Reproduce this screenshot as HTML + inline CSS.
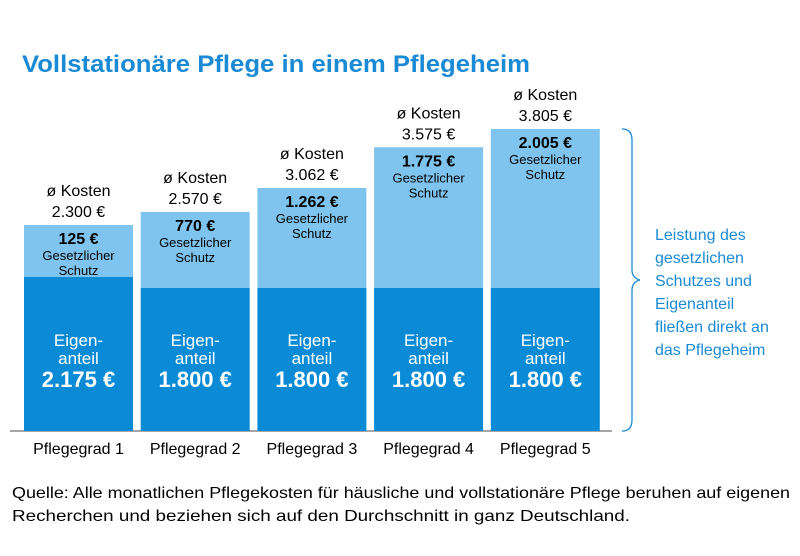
<!DOCTYPE html>
<html><head><meta charset="utf-8"><style>
body{margin:0;background:#fff;font-family:"Liberation Sans",sans-serif;}
#c{position:relative;width:800px;height:556px;overflow:hidden;}
</style></head><body>
<div id="c">
<svg id="svg" width="800" height="556">
<text x="22" y="72" font-size="24" font-weight="bold" fill="#1a8ad4" textLength="508" lengthAdjust="spacingAndGlyphs">Vollstationäre Pflege in einem Pflegeheim</text>
<line x1="10" y1="431" x2="612" y2="431" stroke="#888" stroke-width="1.5"/>
<path d="M622 129 Q632 129 632 140 L632 270 Q632 278 640 280 Q632 282 632 290 L632 420 Q632 431 622 431" fill="none" stroke="#1a8ad4" stroke-width="1.3"/>
<g font-size="16" fill="#1a8ad4">
<text x="655" y="240">Leistung des</text><text x="655" y="263">gesetzlichen</text>
<text x="655" y="286">Schutzes und</text><text x="655" y="309">Eigenanteil</text>
<text x="655" y="332">fließen direkt an</text><text x="655" y="355">das Pflegeheim</text></g>
<g font-size="16" fill="#000">
<text x="12" y="498" textLength="778" lengthAdjust="spacingAndGlyphs">Quelle: Alle monatlichen Pflegekosten für häusliche und vollstationäre Pflege beruhen auf eigenen</text>
<text x="12" y="521" textLength="618" lengthAdjust="spacingAndGlyphs">Recherchen und beziehen sich auf den Durchschnitt in ganz Deutschland.</text></g>
</svg></div>
<script>
const categories=["Pflegegrad 1","Pflegegrad 2","Pflegegrad 3","Pflegegrad 4","Pflegegrad 5"];
const eigenanteil=[2175,1800,1800,1800,1800];
const gesetzlich=[125,770,1262,1775,2005];
const totalLabels=["2.300 €","2.570 €","3.062 €","3.575 €","3.805 €"];
const eigenLabels=["2.175 €","1.800 €","1.800 €","1.800 €","1.800 €"];
const gesLabels=["125 €","770 €","1.262 €","1.775 €","2.005 €"];
const base=431;
const dom=[0,1800,2175,2300,3062,3805], rng=[0,143,154,206,243,302];
function h(v){for(let i=1;i<dom.length;i++){if(v<=dom[i]||i==dom.length-1){return rng[i-1]+(v-dom[i-1])*(rng[i]-rng[i-1])/(dom[i]-dom[i-1]);}}}
function y(v){return base-h(v);}
function x(i){return 24+i*116.7;}
const bw=109, svg=document.getElementById('svg'), NS="http://www.w3.org/2000/svg";
function mk(t,a,txt){const e=document.createElementNS(NS,t);for(const k in a)e.setAttribute(k,a[k]);if(txt)e.textContent=txt;svg.appendChild(e);return e;}
categories.forEach((c,i)=>{
 const tot=eigenanteil[i]+gesetzlich[i], cx=x(i)+bw/2, yt=y(tot), yd=y(eigenanteil[i]);
 let r=mk('rect',{x:x(i),y:yt,width:bw,height:yd-yt,fill:'#7fc4ee'});
 
 
 r=mk('rect',{x:x(i),y:yd,width:bw,height:base-yd,fill:'#0b8bd5'});
 
 
 let t=mk('text',{x:cx,y:yt-29,'text-anchor':'middle','font-size':16,fill:'#000'},'ø Kosten');
 
 
 t=mk('text',{x:cx,y:yt-8,'text-anchor':'middle','font-size':16,fill:'#000'},totalLabels[i]);
 
 
 t=mk('text',{x:cx,y:yt+19,'text-anchor':'middle','font-size':16,'font-weight':'bold',fill:'#000'},gesLabels[i]);
 
 
 t=mk('text',{x:cx,y:yt+35,'text-anchor':'middle','font-size':13,fill:'#000'},'Gesetzlicher');
 
 
 t=mk('text',{x:cx,y:yt+50,'text-anchor':'middle','font-size':13,fill:'#000'},'Schutz');
 
 
 t=mk('text',{x:cx,y:346,'text-anchor':'middle','font-size':17,fill:'#fff'},'Eigen-');
 
 
 t=mk('text',{x:cx,y:364,'text-anchor':'middle','font-size':17,fill:'#fff'},'anteil');
 
 
 t=mk('text',{x:cx,y:387,'text-anchor':'middle','font-size':22,'font-weight':'bold',fill:'#fff'},eigenLabels[i]);
 
 
 t=mk('text',{x:cx,y:454,'text-anchor':'middle','font-size':16,fill:'#000'},c);
 
 
});
</script>
</body></html>
